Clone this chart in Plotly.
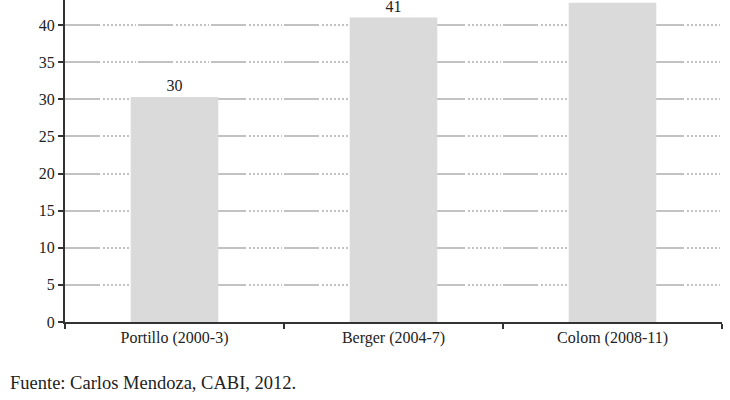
import plotly.graph_objects as go

periodos = ["Portillo (2000-3)", "Berger (2004-7)", "Colom (2008-11)"]
valores = [30.3, 41, 43]
etiquetas = ["30", "41", "43"]
y_ticks = [0, 5, 10, 15, 20, 25, 30, 35, 40]

serif = "Liberation Serif, DejaVu Serif, serif"

fig = go.Figure()
fig.add_trace(go.Bar(
    x=periodos, y=valores,
    text=etiquetas, textposition="outside", cliponaxis=False,
    textfont=dict(family=serif, size=16, color="#222"),
    marker=dict(color="#dadada", line=dict(width=0)),
    width=0.4,
))

# long dash followed by a run of dots, like the original
grid_dash = "35px,3px" + ",2px,2px" * 8 + ",1px,2px"

fig.update_layout(
    width=730, height=400,
    margin=dict(l=65, r=8, t=0, b=78),
    plot_bgcolor="white", paper_bgcolor="white",
    showlegend=False,
    xaxis=dict(
        showline=True, linecolor="#333", linewidth=2,
        ticks="outside", tickson="boundaries", ticklen=5, tickwidth=2, tickcolor="#333",
        tickfont=dict(family=serif, size=16, color="#222"),
        showgrid=False,
    ),
    yaxis=dict(
        range=[0, 43.37], tickvals=y_ticks,
        showline=True, linecolor="#333", linewidth=2,
        ticks="outside", ticklen=5, tickwidth=2, tickcolor="#333",
        tickfont=dict(family=serif, size=16, color="#222"),
        showgrid=True, gridcolor="#c2c2c2", gridwidth=1.5, griddash=grid_dash,
        zeroline=False,
    ),
)

fig.add_annotation(
    text="Fuente: Carlos Mendoza, CABI, 2012.",
    xref="paper", yref="paper", x=-0.087, y=-0.152,
    xanchor="left", yanchor="top", showarrow=False,
    font=dict(family=serif, size=18.5, color="#222"),
)

fig.write_html("out.html", config={"displayModeBar": False},
               post_script="document.body.style.margin = '0';")
